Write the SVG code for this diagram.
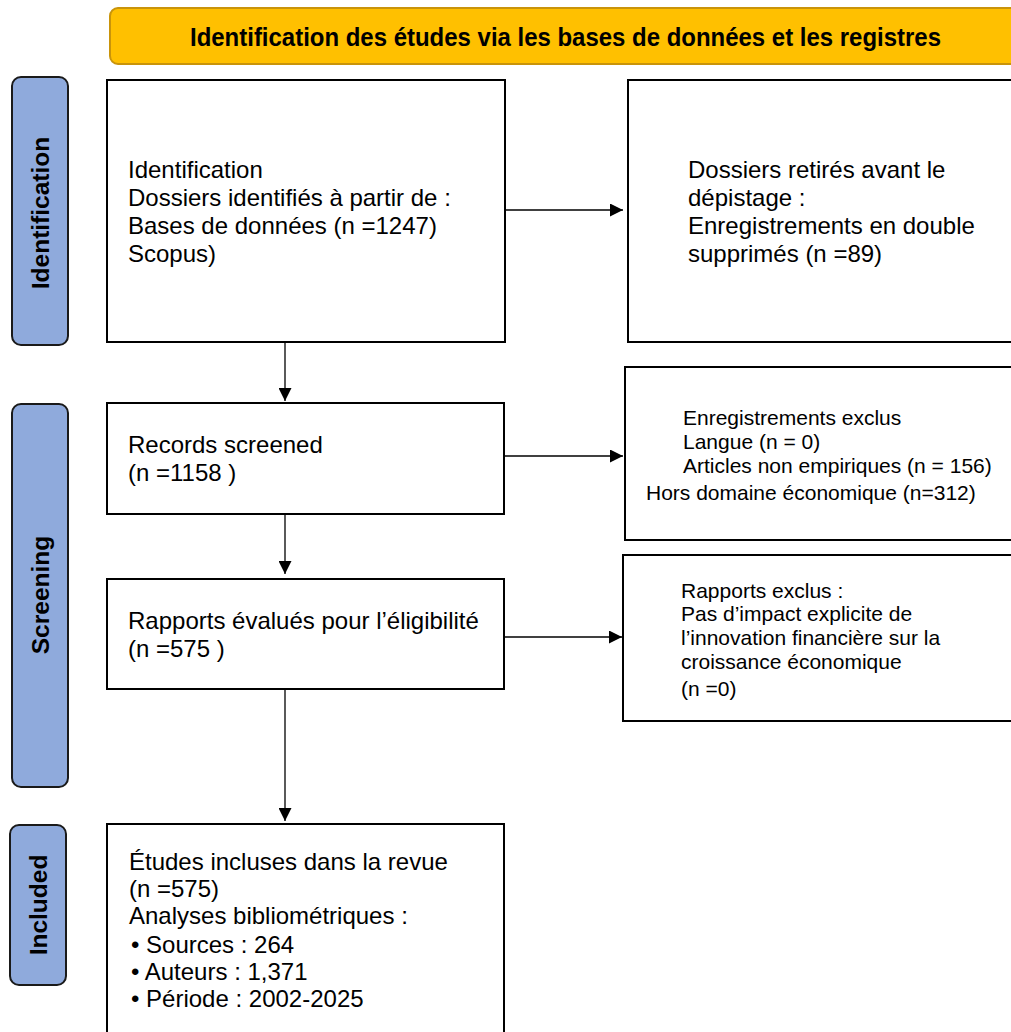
<svg xmlns="http://www.w3.org/2000/svg" width="1011" height="1032" viewBox="0 0 1011 1032">
<defs>
<style>
.box{fill:#fff;stroke:#000;stroke-width:2}
.side{fill:#8faadc;stroke:#1a1a1a;stroke-width:2}
.t{font-family:"Liberation Sans",Arial,sans-serif;font-size:24px;fill:#000}
.s{font-family:"Liberation Sans",Arial,sans-serif;font-size:21px;fill:#000}
.lab{font-family:"Liberation Sans",Arial,sans-serif;font-size:24.5px;font-weight:bold;fill:#000;text-anchor:middle}
.ln{stroke:#000;stroke-width:1.3;fill:none}
</style>
<marker id="ah" viewBox="0 0 12 12" refX="12" refY="6" markerWidth="13" markerHeight="13" markerUnits="userSpaceOnUse" orient="auto">
<path d="M0,0 L12,6 L0,12 Z" fill="#000"/>
</marker>
</defs>
<rect width="1011" height="1032" fill="#fff"/>
<g id="header">
<rect x="110" y="8" width="920" height="56" rx="8" fill="#ffc000" stroke="#c9940a" stroke-width="2"/>
<text x="190" y="46" font-family="'Liberation Sans',Arial,sans-serif" font-size="26" font-weight="bold" textLength="751" lengthAdjust="spacingAndGlyphs">Identification des études via les bases de données et les registres</text>
</g>
<g id="side-identification">
<rect class="side" x="12" y="77" width="56" height="268" rx="9"/>
<text class="lab" transform="translate(49,213) rotate(-90)">Identification</text>
</g>
<g id="side-screening">
<rect class="side" x="12" y="404" width="56" height="383" rx="9"/>
<text class="lab" transform="translate(49,595) rotate(-90)">Screening</text>
</g>
<g id="side-included">
<rect class="side" x="10" y="825" width="56" height="160" rx="9"/>
<text class="lab" transform="translate(47,905) rotate(-90)">Included</text>
</g>
<g id="box-identification">
<rect class="box" x="107" y="80" width="398" height="262"/>
<text class="t" x="128" y="178">Identification</text>
<text class="t" x="128" y="206">Dossiers identifiés à partir de :</text>
<text class="t" x="128" y="234">Bases de données (n =1247)</text>
<text class="t" x="128" y="262">Scopus)</text>
</g>
<g id="box-removed">
<rect class="box" x="628" y="80" width="400" height="262"/>
<text class="t" x="688" y="178">Dossiers retirés avant le</text>
<text class="t" x="688" y="206">dépistage :</text>
<text class="t" x="688" y="234">Enregistrements en double</text>
<text class="t" x="688" y="262">supprimés (n =89)</text>
</g>
<g id="box-screened">
<rect class="box" x="107" y="403" width="397" height="111"/>
<text class="t" x="128" y="453">Records screened</text>
<text class="t" x="128" y="481">(n =1158 )</text>
</g>
<g id="box-excluded">
<rect class="box" x="625" y="367" width="400" height="173"/>
<text class="s" x="683" y="425">Enregistrements exclus</text>
<text class="s" x="683" y="449">Langue (n = 0)</text>
<text class="s" x="683" y="473">Articles non empiriques (n = 156)</text>
<text class="s" x="646" y="500">Hors domaine économique (n=312)</text>
</g>
<g id="box-eligibility">
<rect class="box" x="107" y="579" width="397" height="110"/>
<text class="t" x="128" y="629">Rapports évalués pour l’éligibilité</text>
<text class="t" x="128" y="657">(n =575 )</text>
</g>
<g id="box-reports-excluded">
<rect class="box" x="623" y="555" width="400" height="166"/>
<text class="s" x="681" y="598">Rapports exclus :</text>
<text class="s" x="681" y="621">Pas d’impact explicite de</text>
<text class="s" x="681" y="645">l’innovation financière sur la</text>
<text class="s" x="681" y="669">croissance économique</text>
<text class="s" x="681" y="696">(n =0)</text>
</g>
<g id="box-included">
<rect class="box" x="107" y="824" width="397" height="220"/>
<text class="t" x="129" y="870">Études incluses dans la revue</text>
<text class="t" x="129" y="897">(n =575)</text>
<text class="t" x="129" y="924">Analyses bibliométriques :</text>
<text class="t" x="131" y="953">• Sources : 264</text>
<text class="t" x="131" y="980">• Auteurs : 1,371</text>
<text class="t" x="131" y="1007">• Période : 2002-2025</text>
</g>
<g id="connectors">
<line class="ln" x1="505" y1="210" x2="623" y2="210" marker-end="url(#ah)"/>
<line class="ln" x1="285" y1="342" x2="285" y2="401" marker-end="url(#ah)"/>
<line class="ln" x1="504" y1="456" x2="623" y2="456" marker-end="url(#ah)"/>
<line class="ln" x1="285" y1="514" x2="285" y2="574" marker-end="url(#ah)"/>
<line class="ln" x1="504" y1="637" x2="622" y2="637" marker-end="url(#ah)"/>
<line class="ln" x1="285" y1="689" x2="285" y2="821" marker-end="url(#ah)"/>
</g>
</svg>
